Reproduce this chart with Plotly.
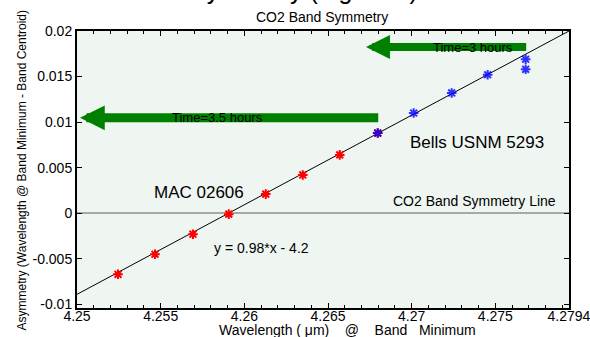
import plotly.graph_objects as go

# ---- data ----
mac_x = [4.25245, 4.25466, 4.25693, 4.25907, 4.26128, 4.26349, 4.26570, 4.26797]
mac_y = [-0.0067, -0.0045, -0.0023, -0.0001, 0.0021, 0.0042, 0.0064, 0.0088]
bells_x = [4.26797, 4.27012, 4.27239, 4.27454, 4.27681, 4.27681]
bells_y = [0.0088, 0.0110, 0.0132, 0.0152, 0.0169, 0.0158]
fit_slope = 0.983
fit_intercept = -4.18665
x_range = [4.25, 4.2794]
y_range = [-0.0104, 0.02]
x_ticks = [4.25, 4.255, 4.26, 4.265, 4.27, 4.275, 4.279399]
x_ticklabels = ["4.25", "4.255", "4.26", "4.265", "4.27", "4.275", "4.2794"]
y_ticks = [-0.01, -0.005, 0, 0.005, 0.01, 0.015, 0.02]
y_ticklabels = ["-0.01", "-0.005", "0", "0.005", "0.01", "0.015", "0.02"]

FONT = "Liberation Sans, Arial, sans-serif"
GREEN = "#008000"
NB = "\u00a0"

fit_x = list(x_range)
fit_y = [fit_slope * v + fit_intercept for v in fit_x]

fig = go.Figure()
fig.add_trace(go.Scatter(x=fit_x, y=fit_y, mode="lines",
                         line=dict(color="black", width=1), showlegend=False,
                         hoverinfo="skip"))
fig.add_trace(go.Scatter(x=mac_x, y=mac_y, mode="markers",
                         marker=dict(symbol="asterisk-open", size=8, color="#ff0000",
                                     line=dict(color="#ff0000", width=2)),
                         showlegend=False))
fig.add_trace(go.Scatter(x=bells_x, y=bells_y, mode="markers",
                         marker=dict(symbol="asterisk-open", size=8, color="#0000ff",
                                     line=dict(color="#0000ff", width=2)),
                         opacity=0.8, showlegend=False))

annotations = []
# arrows
annotations.append(dict(x=4.25018, y=0.01047, ax=4.26809, ay=0.01047,
                        xref="x", yref="y", axref="x", ayref="y", text="",
                        showarrow=True, arrowhead=2, arrowsize=0.55,
                        arrowwidth=9, arrowcolor=GREEN))
annotations.append(dict(x=4.26727, y=0.01824, ax=4.27693, ay=0.01824,
                        xref="x", yref="y", axref="x", ayref="y", text="",
                        showarrow=True, arrowhead=2, arrowsize=0.6,
                        arrowwidth=8, arrowcolor=GREEN))
annotations.append(dict(x=4.25839, y=0.01047, xref="x", yref="y",
                        text="Time=3.5 hours", showarrow=False,
                        font=dict(family=FONT, size=13, color="black")))
annotations.append(dict(x=4.27364, y=0.01824, xref="x", yref="y",
                        text="Time=3 hours", showarrow=False,
                        font=dict(family=FONT, size=13, color="black")))
# labels
annotations.append(dict(x=4.25728, y=0.0023, xref="x", yref="y",
                        text="MAC 02606", showarrow=False,
                        font=dict(family=FONT, size=17, color="black")))
annotations.append(dict(x=4.27388, y=0.0078, xref="x", yref="y",
                        text="Bells USNM 5293", showarrow=False,
                        font=dict(family=FONT, size=17, color="black")))
annotations.append(dict(x=4.27872, y=0.0013, xref="x", yref="y", xanchor="right",
                        text="CO2 Band Symmetry Line", showarrow=False,
                        font=dict(family=FONT, size=14, color="black")))
annotations.append(dict(x=4.26105, y=-0.0038, xref="x", yref="y",
                        text="y = 0.98*x - 4.2", showarrow=False,
                        font=dict(family=FONT, size=14, color="black")))
# titles
annotations.append(dict(x=(322 - 77) / 492, y=1, xref="paper", yref="paper",
                        yanchor="middle", yshift=14,
                        text="CO2 Band Symmetry", showarrow=False,
                        font=dict(family=FONT, size=14, color="black")))
annotations.append(dict(x=(188 - 77) / 492, y=1, xref="paper", yref="paper",
                        xanchor="left", yanchor="bottom", yshift=25,
                        text="Symmetry (Figure 6)", showarrow=False,
                        font=dict(family=FONT, size=25, color="black")))
annotations.append(dict(x=0, y=0.5, xref="paper", yref="paper",
                        xanchor="center", yanchor="middle", xshift=-56, yshift=-1,
                        textangle=-90,
                        text="Asymmetry (Wavelength @ Band Minimum - Band Centroid)",
                        showarrow=False,
                        font=dict(family=FONT, size=12, color="black")))
annotations.append(dict(x=(347 - 77) / 492, y=0, xref="paper", yref="paper",
                        xanchor="center", yanchor="middle", yshift=-22,
                        text="Wavelength ( \u03bcm)" + NB * 3 + " @" + NB * 3 + " Band"
                             + NB * 2 + " Minimum",
                        showarrow=False,
                        font=dict(family=FONT, size=14, color="black")))

fig.update_layout(
    width=590, height=337,
    margin=dict(l=77, r=21, t=31, b=29),
    paper_bgcolor="white",
    plot_bgcolor="#eff5f1",
    font=dict(family=FONT, size=14, color="black"),
    annotations=annotations,
    showlegend=False,
)
fig.update_xaxes(range=x_range, tickmode="array", tickvals=x_ticks,
                 ticktext=x_ticklabels, ticks="inside", ticklen=5,
                 tickcolor="black", showline=True, linecolor="black",
                 linewidth=2, mirror="ticks", showgrid=False, zeroline=False,
                 tickfont=dict(family=FONT, size=14, color="black"),
                 automargin=False, ticklabeloverflow="allow",
                 ticklabelstandoff=-6,
                 minor=dict(tickmode="linear", tick0=4.25, dtick=0.001,
                            ticks="inside", ticklen=3, tickcolor="black",
                            showgrid=False))
fig.update_yaxes(range=y_range, tickmode="array", tickvals=y_ticks,
                 ticktext=y_ticklabels, ticks="inside", ticklen=5,
                 tickcolor="black", showline=True, linecolor="black",
                 linewidth=2, mirror="ticks", showgrid=False, zeroline=True,
                 zerolinecolor="#a8a8a8", zerolinewidth=1.5, automargin=False,
                 tickfont=dict(family=FONT, size=14, color="black"))

fig.write_html("out.html", config={"displayModeBar": False},
               post_script="document.body.style.margin='0px';document.body.style.overflow='hidden';")
